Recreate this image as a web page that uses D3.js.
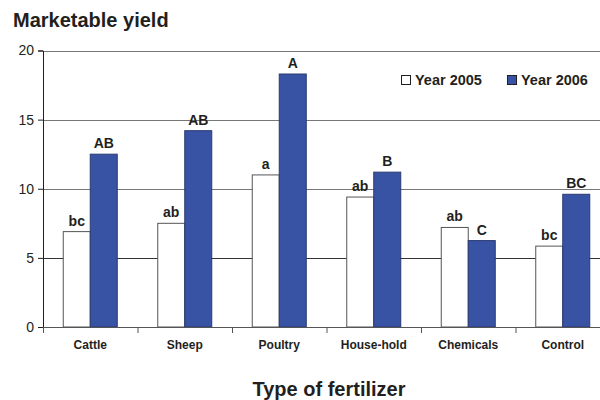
<!DOCTYPE html>
<html>
<head>
<meta charset="utf-8">
<script src="https://cdn.jsdelivr.net/npm/d3@7"></script>
<style>
  body { margin: 0; background: #fff; }
  text { font-family: Arial, "Liberation Sans", sans-serif; fill: #231f20; }
</style>
</head>
<body>
<div id="chart"></div>
<script>
// chart data
const categories = ["Cattle", "Sheep", "Poultry", "House-hold", "Chemicals", "Control"];
const years = ["Year 2005", "Year 2006"];
const yield2005 = [6.9, 7.5, 11.0, 9.4, 7.2, 5.85];
const yield2006 = [12.5, 14.2, 18.3, 11.2, 6.25, 9.6];
const letters2005 = ["bc", "ab", "a", "ab", "ab", "bc"];
const letters2006 = ["AB", "AB", "A", "B", "C", "BC"];
const yTicks = [0, 5, 10, 15, 20];

const colors = ["#ffffff", "#3953a4"];

const width = 600, height = 400;
const svg = d3.select("#chart").append("svg")
  .attr("width", width).attr("height", height);

// x band spans a little past the right edge, like the original
let x = d3.scaleBand().domain(categories).range([43, 610]);
let y = d3.scaleLinear().domain([0, 20]).range([327, 50.5]);
let barW = 27;

// gridlines
svg.append("g").selectAll("line")
  .data(yTicks.filter(d => d > 0))
  .enter().append("line")
  .attr("x1", 43).attr("x2", width)
  .attr("y1", d => Math.round(y(d)) + 0.5).attr("y2", d => Math.round(y(d)) + 0.5)
  .attr("stroke", d => d === 5 ? "#333" : "#777")
  .attr("stroke-width", 1);

// bars
let series = [yield2005, yield2006];
series.forEach((vals, s) => {
  svg.append("g").selectAll("rect")
    .data(vals)
    .enter().append("rect")
    .attr("x", (d, i) => x(categories[i]) + x.bandwidth() / 2 - barW + s * barW)
    .attr("y", d => y(d))
    .attr("width", barW)
    .attr("height", d => y(0) - y(d))
    .attr("fill", colors[s])
    .attr("stroke", s === 0 ? "#555" : "#2a3a70")
    .attr("stroke-width", 1);
});

// significance letters
let letterSets = [letters2005, letters2006];
letterSets.forEach((lbls, s) => {
  svg.append("g").selectAll("text")
    .data(lbls)
    .enter().append("text")
    .attr("x", (d, i) => x(categories[i]) + x.bandwidth() / 2 - barW / 2 + s * barW)
    .attr("y", (d, i) => y(series[s][i]) - 6)
    .attr("text-anchor", "middle")
    .attr("font-size", 14)
    .attr("font-weight", "bold")
    .text(d => d);
});

// y axis
let yAxis = svg.append("g")
  .attr("transform", "translate(43,0)")
  .call(d3.axisLeft(y).tickValues(yTicks).tickSize(5).tickPadding(4));
yAxis.select(".domain").attr("stroke", "#231f20");
yAxis.selectAll(".tick line").attr("stroke", "#231f20");
yAxis.selectAll(".tick text").attr("font-size", 14).attr("font-family", "Arial, Liberation Sans, sans-serif").attr("fill", "#231f20");

// x axis
let xAxis = svg.append("g")
  .attr("transform", "translate(0,327)")
  .call(d3.axisBottom(x).tickSize(0).tickPadding(13));
xAxis.select(".domain").attr("d", `M43,0.5H${width}`).attr("stroke", "#555");
xAxis.selectAll(".tick text").attr("font-size", 12).attr("font-weight", "bold")
  .attr("font-family", "Arial, Liberation Sans, sans-serif").attr("fill", "#231f20");
// category separator ticks
svg.append("g").selectAll("line")
  .data(categories)
  .enter().append("line")
  .attr("x1", d => x(d) + 0.5).attr("x2", d => x(d) + 0.5)
  .attr("y1", 327).attr("y2", 333)
  .attr("stroke", "#555");

// titles
svg.append("text").attr("x", 13).attr("y", 27)
  .attr("font-size", 20).attr("font-weight", "bold")
  .text("Marketable yield");
svg.append("text").attr("x", 329).attr("y", 396)
  .attr("text-anchor", "middle")
  .attr("font-size", 20).attr("font-weight", "bold")
  .text("Type of fertilizer");

// legend
let legendX = [401, 507];
years.forEach((yr, s) => {
  let g = svg.append("g").attr("transform", `translate(${legendX[s]},75)`);
  g.append("rect").attr("x", 0.5).attr("y", 0.5).attr("width", 9).attr("height", 9)
    .attr("fill", colors[s]).attr("stroke", "#231f20");
  g.append("text").attr("x", 14).attr("y", 10)
    .attr("font-size", 14.5).attr("font-weight", "bold")
    .text(yr);
});
</script>
</body>
</html>
